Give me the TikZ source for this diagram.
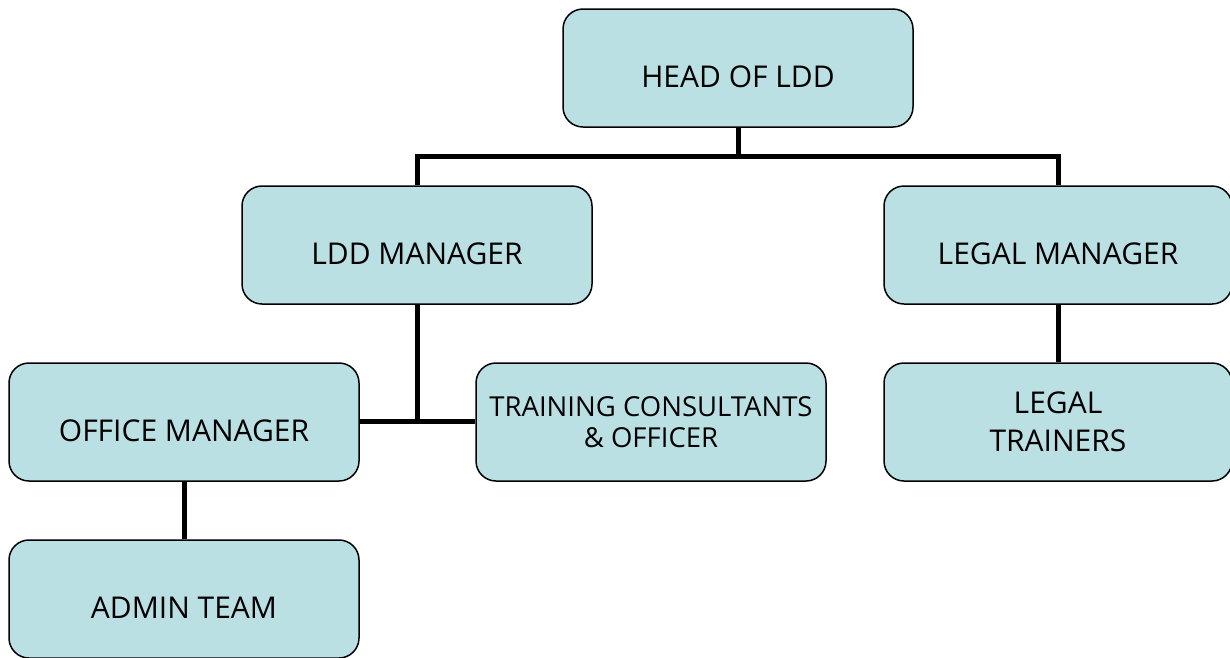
\documentclass[tikz,border=0pt]{standalone}
\usepackage{fontspec}
\setmainfont{Open Sans}
\definecolor{boxfill}{HTML}{BBE0E3}
\begin{document}
\begin{tikzpicture}[x=1pt,y=-1pt,
  orgbox/.style={draw=black, line width=1.5pt, fill=boxfill, rounded corners=20pt,
    minimum width=350pt, minimum height=118pt, inner sep=2pt, align=center,
    font=\fontsize{30}{38}\selectfont, anchor=center},
  oneline/.style={text height=39pt, text depth=0pt},
  link/.style={line width=5pt}]
\useasboundingbox (0,0) rectangle (1230,657);
\node[orgbox, oneline] (head) at (738,68) {HEAD OF LDD};
\node[orgbox, oneline] (ldd) at (417,245) {LDD MANAGER};
\node[orgbox, oneline, minimum width=348pt] (legal) at (1058,245) {LEGAL MANAGER};
\node[orgbox, oneline] (office) at (184,422) {OFFICE MANAGER};
\node[orgbox, font=\fontsize{27.5}{31}\selectfont] (train) at (651,422) {TRAINING CONSULTANTS\\\& OFFICER};
\node[orgbox, minimum width=348pt] (ltrain) at (1058,422) {LEGAL\\TRAINERS};
\node[orgbox, oneline] (admin) at (184,599) {ADMIN TEAM};
\coordinate (hj) at (738,156);
\coordinate (lj) at (417,421);
\draw[link] (head.south) -- (hj);
\draw[link] (ldd.north) |- (hj) -| (legal.north);
\draw[link] (ldd.south) -- (lj);
\draw[link] (office.east |- lj) -- (train.west |- lj);
\draw[link] (legal.south) -- (ltrain.north);
\draw[link] (office.south) -- (admin.north);
\end{tikzpicture}
\end{document}
